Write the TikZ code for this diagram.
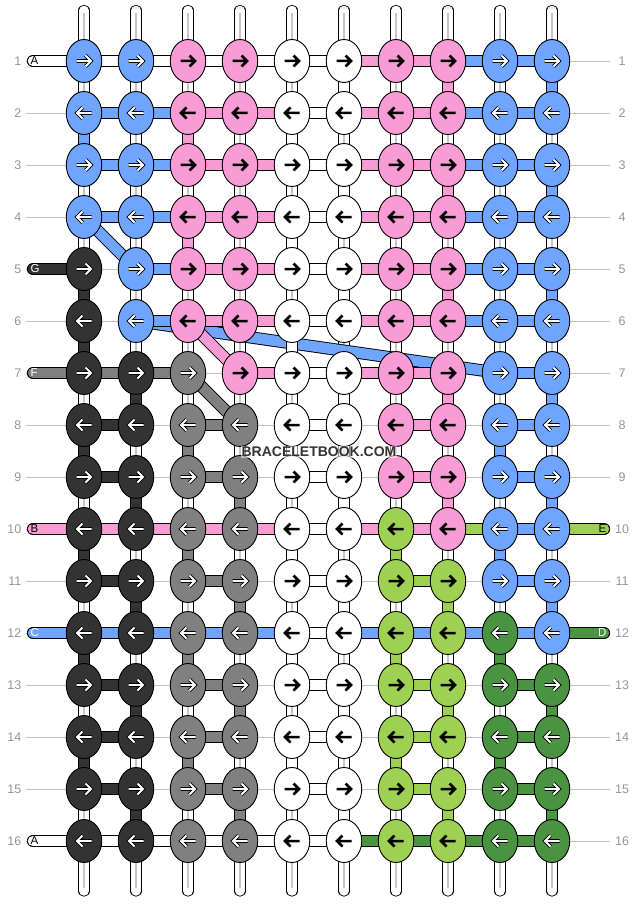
\documentclass[tikz,border=0pt]{standalone}
\usepackage{fontspec}
\setmainfont{Liberation Sans}
\usetikzlibrary{shapes.geometric}
\definecolor{kB}{RGB}{111,165,255}
\definecolor{kP}{RGB}{249,155,213}
\definecolor{kW}{RGB}{255,255,255}
\definecolor{kD}{RGB}{51,51,51}
\definecolor{kG}{RGB}{128,128,128}
\definecolor{kL}{RGB}{158,208,82}
\definecolor{kN}{RGB}{74,147,64}
\definecolor{guide}{RGB}{195,195,195}
\definecolor{numc}{RGB}{150,150,150}
\definecolor{markc}{RGB}{51,51,51}
\tikzset{
  knot/.style={ellipse, draw=black, line width=0.9pt, minimum width=35.5pt, minimum height=43pt, inner sep=0pt},
  seg/.style={draw=black, line width=0.9pt, double=#1, double distance=10.5pt},
  warp/.style={draw=black, line width=0.9pt, double=white, double distance=9.5pt},
  warpcore/.style={draw=gray!45, line width=1.3pt},
  lightarrow/.style={draw=black, line width=0.9pt, double=white, double distance=1.9pt},
  darkarrow/.style={draw=black, line width=2.5pt},
  arrB/.style={lightarrow}, arrD/.style={lightarrow}, arrG/.style={lightarrow}, arrN/.style={lightarrow},
  arrP/.style={darkarrow}, arrW/.style={darkarrow}, arrL/.style={darkarrow},
  guideline/.style={draw=guide, line width=0.8pt},
  rownum/.style={text=numc, font=\fontsize{12.5}{12.5}\selectfont, inner sep=0pt},
  striplabel/.style={font=\fontsize{11.5}{11.5}\selectfont, inner sep=0pt},
  watermark/.style={font=\bfseries\fontsize{14}{14}\selectfont, text=markc, inner xsep=1pt, inner ysep=1.5pt, fill=white, fill opacity=0.55, text opacity=1}
}
\begin{document}
\begin{tikzpicture}[x=1pt,y=-1pt]
\useasboundingbox (0,0) rectangle (636,904);
\fill[white] (0,0) rectangle (636,904);
% grid coordinates
\foreach \r in {1,...,16}{
  \foreach \c in {1,...,10}{
    \coordinate (p-\r-\c) at ({84+52*(\c-1)},{61+52*(\r-1)});
  }
  \coordinate (gl-\r) at (26,{61+52*(\r-1)});
  \coordinate (gr-\r) at (610,{61+52*(\r-1)});
  \draw[guideline] (gl-\r) -- (gr-\r);
  \node[rownum, anchor=east] (nl-\r) at (21.5,{61+52*(\r-1)}) {\r};
  \node[rownum] (nr-\r) at (622,{61+52*(\r-1)}) {\r};
}
% top and bottom warp ends
\foreach \c in {1,...,10}{
  \coordinate (t-\c) at ({84+52*(\c-1)},10.5);
  \coordinate (b-\c) at ({84+52*(\c-1)},891);
  \draw[warp, line cap=round] (t-\c) -- (p-1-\c);
  \draw[warpcore] ([yshift=-3pt]t-\c) -- (p-1-\c);
  \draw[warp, line cap=round] (p-16-\c) -- (b-\c);
  \draw[warpcore] (p-16-\c) -- ([yshift=3pt]b-\c);
}
% vertical segments: Y = pair of warp strings, otherwise carried string colour
\def\vertlist{1/{Y,Y,Y,Y,Y,W,Y,P,Y,B},
  2/{B,Y,P,Y,W,Y,Y,Y,Y,Y},
  3/{Y,Y,Y,Y,Y,W,Y,P,Y,B},
  4/{Y,Y,P,Y,W,Y,Y,Y,Y,Y},
  5/{D,Y,Y,Y,Y,W,Y,P,Y,B},
  6/{D,Y,Y,Y,W,Y,Y,Y,Y,Y},
  7/{Y,D,Y,Y,Y,W,Y,P,Y,B},
  8/{D,Y,G,Y,W,Y,Y,Y,B,Y},
  9/{Y,D,Y,G,Y,W,Y,P,Y,B},
  10/{D,Y,G,Y,W,Y,L,Y,B,Y},
  11/{Y,D,Y,G,Y,W,Y,L,Y,B},
  12/{D,Y,G,Y,W,Y,L,Y,N,Y},
  13/{Y,D,Y,G,Y,W,Y,L,Y,N},
  14/{D,Y,G,Y,W,Y,L,Y,N,Y},
  15/{Y,D,Y,G,Y,W,Y,L,Y,N}}
\foreach \r/\row in \vertlist {
  \pgfmathtruncatemacro\rn{\r+1}
  \foreach \k [count=\c] in \row {
    \if\k Y
      \draw[warp] (p-\r-\c) -- (p-\rn-\c);
      \draw[warpcore] (p-\r-\c) -- (p-\rn-\c);
    \fi
  }
}
% diagonal strings
\draw[seg=kB] (p-4-1) -- (p-5-2);
\draw[seg=kB] (p-6-2) -- (p-7-9);
\draw[seg=kP] (p-6-3) -- (p-7-4);
\draw[seg=kG] (p-7-3) -- (p-8-4);
% carried vertical strings
\foreach \r/\row in \vertlist {
  \pgfmathtruncatemacro\rn{\r+1}
  \foreach \k [count=\c] in \row {
    \if\k Y\else
      \draw[seg=k\k] (p-\r-\c) -- (p-\rn-\c);
    \fi
  }
}
% horizontal segments: X = none
\foreach \r/\row in {1/{W,W,W,W,W,P,P,B,B},
  2/{B,B,P,P,W,P,P,B,B},
  3/{B,B,P,P,W,P,P,B,B},
  4/{B,B,P,P,W,P,P,B,B},
  5/{X,B,P,P,W,P,P,B,B},
  6/{X,B,P,P,W,P,P,B,B},
  7/{G,G,X,P,W,P,P,X,B},
  8/{D,X,G,X,W,X,P,X,B},
  9/{D,X,G,X,W,X,P,X,B},
  10/{P,P,P,P,W,P,P,L,B},
  11/{D,X,G,X,W,X,L,X,B},
  12/{B,B,B,B,W,B,B,B,B},
  13/{D,X,G,X,W,X,L,X,N},
  14/{D,X,G,X,W,X,L,X,N},
  15/{D,X,G,X,W,X,L,X,N},
  16/{W,W,W,W,W,N,N,N,N}} {
  \foreach \k [count=\c] in \row {
    \pgfmathtruncatemacro\cn{\c+1}
    \if\k X\else
      \draw[seg=k\k] (p-\r-\c) -- (p-\r-\cn);
    \fi
  }
}
% left string ends
\foreach \r/\k/\t/\tc in {1/W/A/black,5/D/G/white,7/G/F/white,10/P/B/black,12/B/C/white,16/W/A/black}{
  \coordinate (ls-\r) at (33,{61+52*(\r-1)});
  \draw[seg=k\k, line cap=round] (ls-\r) -- (p-\r-1);
  \node[striplabel, text=\tc, anchor=west] (lt-\r) at ([xshift=-2.5pt]ls-\r) {\t};
}
% right string ends
\foreach \r/\k/\t/\tc in {10/L/E/black,12/N/D/white}{
  \coordinate (rs-\r) at (604,{61+52*(\r-1)});
  \draw[seg=k\k, line cap=round] (p-\r-10) -- (rs-\r);
  \node[striplabel, text=\tc, anchor=east] (rt-\r) at ([xshift=2.5pt]rs-\r) {\t};
}
% knots
\foreach \r/\row in {1/{B,B,P,P,W,W,P,P,B,B},
  2/{B,B,P,P,W,W,P,P,B,B},
  3/{B,B,P,P,W,W,P,P,B,B},
  4/{B,B,P,P,W,W,P,P,B,B},
  5/{D,B,P,P,W,W,P,P,B,B},
  6/{D,B,P,P,W,W,P,P,B,B},
  7/{D,D,G,P,W,W,P,P,B,B},
  8/{D,D,G,G,W,W,P,P,B,B},
  9/{D,D,G,G,W,W,P,P,B,B},
  10/{D,D,G,G,W,W,L,P,B,B},
  11/{D,D,G,G,W,W,L,L,B,B},
  12/{D,D,G,G,W,W,L,L,N,B},
  13/{D,D,G,G,W,W,L,L,N,N},
  14/{D,D,G,G,W,W,L,L,N,N},
  15/{D,D,G,G,W,W,L,L,N,N},
  16/{D,D,G,G,W,W,L,L,N,N}} {
  \ifodd\r \def\dir{1}\else\def\dir{-1}\fi
  \foreach \k [count=\c] in \row {
    \node[knot, fill=k\k] (k-\r-\c) at (p-\r-\c) {};
    \begin{scope}[shift={(p-\r-\c)}, xscale=\dir]
      \draw[arr\k] (-7.5,0) -- (6,0) (1.5,5.5) -- (7,0) -- (1.5,-5.5);
    \end{scope}
  }
}
% watermark
\node[watermark] (wm) at (319,452) {BRACELETBOOK.COM};
\end{tikzpicture}
\end{document}
